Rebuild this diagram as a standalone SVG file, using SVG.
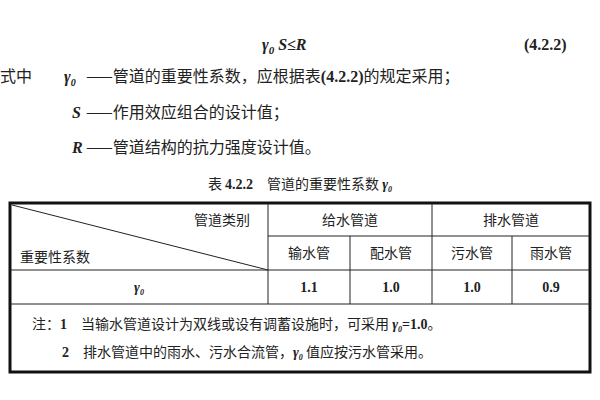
<svg xmlns="http://www.w3.org/2000/svg" width="600" height="400" viewBox="0 0 600 400">
<style>
text{font-family:"Noto Sans CJK SC","Liberation Serif",serif;font-size:16px;fill:#222}
.b{font-family:"Liberation Serif","Noto Sans CJK SC",serif;font-weight:bold}
.i{font-family:"Liberation Serif",serif;font-weight:bold;font-style:italic}
.c{text-anchor:middle}
.s{font-size:14px}
line{stroke:#222;stroke-width:1}
</style>
<rect width="600" height="400" fill="#fff"/>
<g id="formula">
<text x="262" y="50" class="i" font-size="20">γ<tspan font-size="11" dy="4">0</tspan><tspan dy="-4"> S</tspan>≤<tspan>R</tspan></text>
<text x="524" y="50" class="b" font-size="17">(4.2.2)</text>
<text x="0" y="82">式中</text>
<text x="64" y="82" class="i" font-size="18">γ<tspan font-size="10" dy="4">0</tspan></text>
<text x="86" y="82">——管道的重要性系数，应根据表<tspan class="b">(4.2.2)</tspan>的规定采用；</text>
<text x="72" y="118" class="i" font-size="18">S</text>
<text x="86" y="118">——作用效应组合的设计值；</text>
<text x="72" y="153" class="i" font-size="18">R</text>
<text x="86" y="153">——管道结构的抗力强度设计值。</text>
<text x="300" y="189" class="c s">表 <tspan class="b">4.2.2</tspan>　管道的重要性系数 <tspan class="i">γ<tspan font-size="8" dy="3">0</tspan></tspan></text>
</g>
<g id="table">
<rect x="10" y="203" width="580" height="169" fill="none" stroke="#111" stroke-width="3"/>
<line x1="268" y1="236" x2="590" y2="236"/>
<line x1="10" y1="270" x2="590" y2="270"/>
<line x1="10" y1="304" x2="590" y2="304"/>
<line x1="268" y1="203" x2="268" y2="304"/>
<line x1="432" y1="203" x2="432" y2="304"/>
<line x1="350" y1="236" x2="350" y2="304"/>
<line x1="512" y1="236" x2="512" y2="304"/>
<line x1="12" y1="205" x2="268" y2="270"/>
<text x="250" y="225" class="s" text-anchor="end">管道类别</text>
<text x="20" y="262" class="s">重要性系数</text>
<text x="350" y="225" class="c s">给水管道</text>
<text x="511" y="225" class="c s">排水管道</text>
<text x="309" y="258" class="c s">输水管</text>
<text x="391" y="258" class="c s">配水管</text>
<text x="472" y="258" class="c s">污水管</text>
<text x="551" y="258" class="c s">雨水管</text>
<text x="139" y="292" class="c i s">γ<tspan font-size="8" dy="3">0</tspan></text>
<text x="309" y="292" class="c b s">1.1</text>
<text x="391" y="292" class="c b s">1.0</text>
<text x="472" y="292" class="c b s">1.0</text>
<text x="551" y="292" class="c b s">0.9</text>
<text x="32" y="329" class="s">注：<tspan class="b">1</tspan>　当输水管道设计为双线或设有调蓄设施时，可采用 <tspan class="i">γ<tspan font-size="8" dy="3">0</tspan></tspan><tspan class="b" dy="-3">=1.0</tspan>。</text>
<text x="62" y="357" class="s"><tspan class="b">2</tspan>　排水管道中的雨水、污水合流管，<tspan class="i">γ<tspan font-size="8" dy="3">0</tspan></tspan><tspan dy="-3"> 值应按污水管采用。</tspan></text>
</g>
</svg>
